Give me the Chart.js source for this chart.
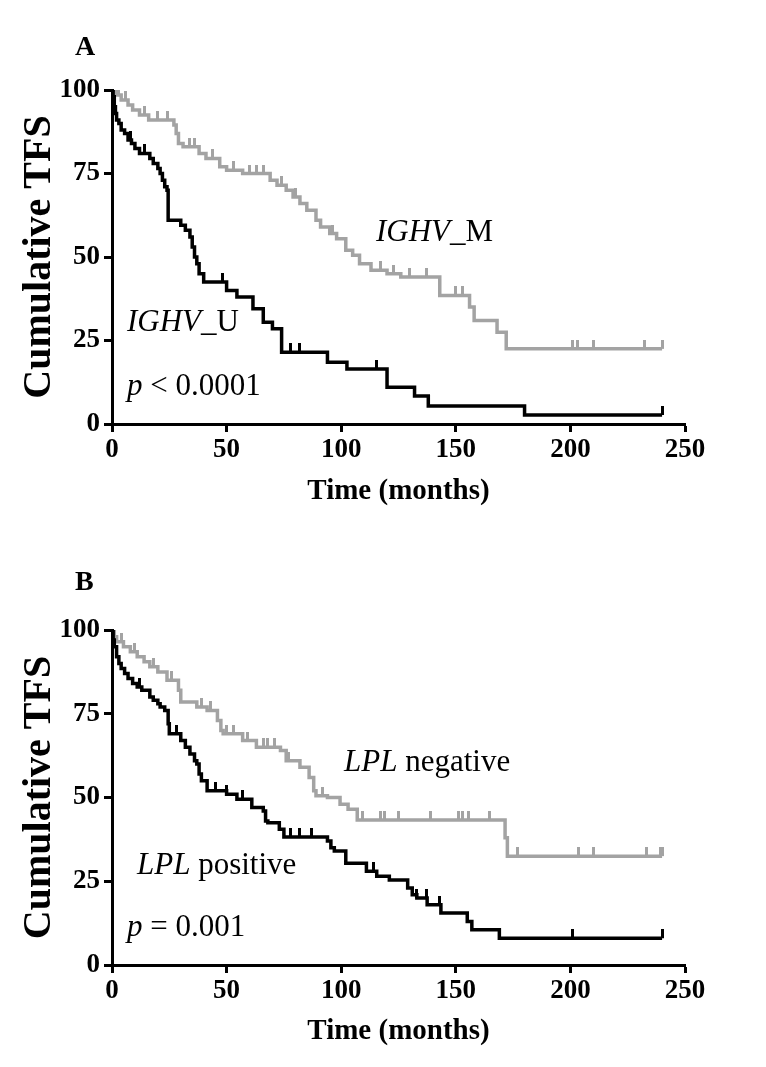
<!DOCTYPE html>
<html>
<head>
<meta charset="utf-8">
<script src="https://cdn.jsdelivr.net/npm/chart.js@4.4.1/dist/chart.umd.min.js"></script>
<style>
  body { margin: 0; background: #fff; width: 766px; height: 1067px; position: relative; overflow: hidden;
         font-family: 'Liberation Serif', 'Times New Roman', serif; color: #000; }
  .panel { position: absolute; left: 0; width: 766px; height: 527px; }
  .note { position: absolute; font-size: 31px; line-height: 1; white-space: nowrap; }
  .letter { position: absolute; font-size: 28px; font-weight: bold; line-height: 1; }
</style>
</head>
<body>
<canvas id="chartA" class="panel" style="top:0" width="766" height="527"></canvas>
<canvas id="chartB" class="panel" style="top:540px" width="766" height="527"></canvas>

<div class="letter" style="left:75px; top:32px">A</div>
<div class="note" style="left:376px; top:215px"><i>IGHV</i>_M</div>
<div class="note" style="left:127px; top:305px"><i>IGHV</i>_U</div>
<div class="note" style="left:127px; top:369px"><i>p</i> &lt; 0.0001</div>

<div class="letter" style="left:75px; top:567px">B</div>
<div class="note" style="left:344px; top:745px"><i>LPL</i> negative</div>
<div class="note" style="left:137px; top:848px"><i>LPL</i> positive</div>
<div class="note" style="left:127px; top:910px"><i>p</i> = 0.001</div>

<script>
// axis ticks
const monthTicks = [0, 50, 100, 150, 200, 250];
const tfsTicks = [0, 25, 50, 75, 100];

// Panel A - IGHV unmutated (black)
const ighvUTimes = [0, 0.5, 1, 1.5, 2, 3, 4, 5.5, 7, 8.5, 10, 12, 16.5, 18, 20, 21, 22, 23, 24, 24.5,
                    30, 32, 34, 35, 36, 37, 38, 40, 50, 54.5, 61.5, 66, 70, 74, 94, 102.5, 120, 132, 138, 180, 240];
const ighvUSurv  = [100, 98, 95, 93, 91, 90, 88, 87, 85, 84, 82.5, 81, 79.5, 78, 76.5, 75, 73, 71, 70, 61,
                    59.5, 58, 56, 53, 50, 48, 45, 42.5, 40, 38, 34.5, 30.5, 28.5, 21.5, 18.5, 16.5, 11, 8.4, 5.4, 2.7, 2.7];
const ighvUCensor = [8, 14, 48, 78, 82, 115.5, 240];

// Panel A - IGHV mutated (grey)
const ighvMTimes = [0, 2, 4, 7, 9, 12, 16, 27, 28, 29, 31, 38, 41, 47, 50, 57, 69, 72, 76, 79,
                    82, 85, 89, 91, 95, 98, 102, 105, 108, 113, 120, 126, 143, 156, 158, 168, 172, 240];
const ighvMSurv  = [100, 98.5, 97, 95.5, 94, 92.5, 91, 89.5, 87, 84, 83, 81, 79.5, 77, 76, 75, 73, 71.5, 70, 68,
                    66, 64, 61, 59, 57, 55.5, 52, 50.5, 48, 46, 45, 44, 38.5, 35, 31, 27.5, 22.5, 22.5];
const ighvMCensor = [3, 6, 14, 20, 24, 34, 36, 44, 53, 60, 63, 66, 74, 80, 96, 117, 123, 130, 137,
                     150, 153, 201, 203, 210, 232.5, 240];

// Panel B - LPL positive (black)
const lplPosTimes = [0, 0.5, 1, 2, 3, 4, 5.5, 7, 9, 11, 13, 16.5, 18, 20, 21, 23, 24.5, 25, 30, 32,
                     34, 36, 37, 38, 39, 41.5, 50, 54.5, 61, 66, 67, 68, 73, 75, 94, 95.5, 97, 102, 111, 115.5,
                     121, 129, 131, 133, 137.5, 143.5, 155, 157, 169, 240];
const lplPosSurv  = [100, 97, 95, 92, 90, 88.5, 87, 85.5, 84, 83, 82, 80, 79, 78, 77, 76, 72, 69, 67, 65,
                     63, 61, 60, 57, 55, 52, 51, 49.5, 47, 46, 43, 42.5, 40.5, 38.2, 37, 35, 34, 30.4, 28, 26.5,
                     25.4, 23, 21, 20, 18, 15.5, 13, 10.5, 8, 8];
const lplPosCensor = [12, 28, 45, 50, 57, 78, 82, 87, 114, 133, 137, 143, 201, 240];

// Panel B - LPL negative (grey)
const lplNegTimes = [0, 1, 2, 5, 8, 11, 14, 16.5, 20, 24, 29, 30, 37, 41.5, 46, 47.5, 48.5, 57, 63, 73.5,
                     76, 82, 86, 88, 89, 94, 99.5, 103, 107, 171.5, 172.5, 240];
const lplNegSurv  = [100, 98, 96.5, 95, 93.5, 92, 90.5, 89, 87.5, 85, 82, 78.5, 77, 76, 73, 70, 69, 67, 65, 64,
                     61, 59, 56, 52, 50.5, 50, 48, 46.5, 43.3, 38, 32.5, 32.5];
const lplNegCensor = [4, 10, 18, 26, 39, 43, 50, 53, 59, 66, 68, 71, 77, 92, 109.5, 117, 119, 125, 139,
                      151, 153, 155.5, 164.5, 177, 203.5, 210, 233, 239.5, 240];

const BLACK = '#000000';
const GREY = '#a3a3a3';

Chart.defaults.font.family = "'Liberation Serif', 'Times New Roman', serif";
Chart.defaults.color = '#000';

// value of the KM step curve at time t
function survivalAt(times, surv, t) {
    let s = surv[0];
    for (let i = 0; i < times.length; i++) {
        if (times[i] <= t) s = surv[i];
    }
    return s;
}

// little vertical tick sitting on top of the curve
function censorMark(color) {
    const c = document.createElement('canvas');
    c.width = 3;
    c.height = 18;
    const g = c.getContext('2d');
    g.fillStyle = color;
    g.fillRect(0, 0, 3, 9);
    return c;
}

function curveDatasets(times, surv, censor, color) {
    return [{
        data: times.map((t, i) => ({x: t, y: surv[i]})),
        borderColor: color,
        borderWidth: 3.5,
        stepped: true,
        pointRadius: 0,
        fill: false
    }, {
        data: censor.map(t => ({x: t, y: survivalAt(times, surv, t)})),
        showLine: false,
        pointStyle: censorMark(color),
        pointRadius: 3
    }];
}

function drawPanel(canvasId, datasets, plotBottom) {
    const ctx = document.getElementById(canvasId).getContext('2d');
    const axisGrid = {drawOnChartArea: false, color: '#000', tickColor: '#000', tickLength: 8, tickWidth: 3};
    new Chart(ctx, {
        type: 'line',
        data: {datasets: datasets},
        options: {
            responsive: false,
            animation: false,
            layout: {padding: {top: 90, right: 81, left: 0, bottom: 0}},
            plugins: {
                legend: {display: false},
                tooltip: {enabled: false}
            },
            scales: {
                x: {
                    type: 'linear',
                    min: 0,
                    max: 250,
                    afterBuildTicks: axis => { axis.ticks = monthTicks.map(v => ({value: v})); },
                    afterFit: axis => { axis.height = 527 - plotBottom; },
                    grid: axisGrid,
                    border: {color: '#000', width: 3},
                    ticks: {color: '#000', font: {size: 27, weight: 'bold'}, padding: 2, maxRotation: 0},
                    title: {
                        display: true,
                        text: 'Time (months)',
                        color: '#000',
                        font: {size: 29, weight: 'bold'},
                        padding: {top: 0, bottom: 18}
                    }
                },
                y: {
                    min: 0,
                    max: 100,
                    afterBuildTicks: axis => { axis.ticks = tfsTicks.map(v => ({value: v})); },
                    afterFit: axis => { axis.width = 112; },
                    grid: axisGrid,
                    border: {color: '#000', width: 3},
                    ticks: {color: '#000', font: {size: 27, weight: 'bold'}, padding: 4},
                    title: {
                        display: true,
                        text: 'Cumulative TFS',
                        color: '#000',
                        font: {size: 40, weight: 'bold'},
                        padding: {top: 16, bottom: 0}
                    }
                }
            }
        }
    });
}

document.addEventListener('DOMContentLoaded', function() {
    drawPanel('chartA', [
        ...curveDatasets(ighvUTimes, ighvUSurv, ighvUCensor, BLACK),
        ...curveDatasets(ighvMTimes, ighvMSurv, ighvMCensor, GREY)
    ], 424);

    drawPanel('chartB', [
        ...curveDatasets(lplPosTimes, lplPosSurv, lplPosCensor, BLACK),
        ...curveDatasets(lplNegTimes, lplNegSurv, lplNegCensor, GREY)
    ], 425);
});
</script>
</body>
</html>
